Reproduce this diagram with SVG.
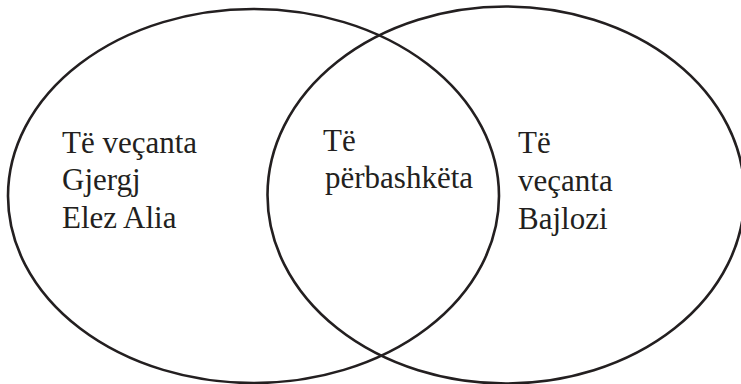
<svg xmlns="http://www.w3.org/2000/svg" width="741" height="384" viewBox="0 0 741 384">
<style>
.c{fill:none;stroke:#231f20;stroke-width:2.6}
.t{font-family:'Liberation Serif','Times New Roman',Tinos,'DejaVu Serif',serif;font-size:31px;fill:#231f20}
</style>
<rect width="741" height="384" fill="#fff"/>
<g id="left"><ellipse class="c" cx="253.5" cy="196" rx="245.5" ry="187"/>
<text class="t" x="62" y="153">Të veçanta</text>
<text class="t" x="62" y="190">Gjergj</text>
<text class="t" x="62" y="228">Elez Alia</text></g>
<g id="right"><ellipse class="c" cx="506" cy="195" rx="238.5" ry="188.5"/>
<text class="t" x="518" y="153">Të</text>
<text class="t" x="518" y="191">veçanta</text>
<text class="t" x="518" y="229">Bajlozi</text></g>
<g id="common">
<text class="t" x="323" y="151">Të</text>
<text class="t" x="325" y="188">përbashkëta</text></g>
<g id="connectors"/>
</svg>
